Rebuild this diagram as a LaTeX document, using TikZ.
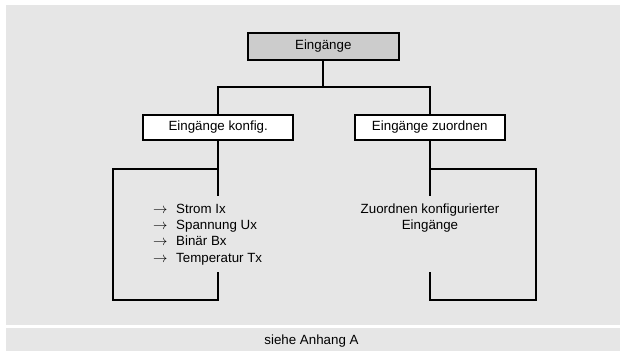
\documentclass[tikz,border=0pt]{standalone}
\usepackage{fontspec}
\setmainfont{Liberation Sans}
\definecolor{bggray}{HTML}{E6E6E6}
\definecolor{boxgray}{HTML}{CCCCCC}
\begin{document}
\begin{tikzpicture}[x=1pt,y=-1pt,
  every node/.style={font=\fontsize{13.33}{16}\selectfont, inner sep=0pt},
  conn/.style={line width=2pt, line cap=rect},
  topbox/.style={draw, line width=2pt, fill=boxgray, minimum width=150.5pt, minimum height=26.5pt},
  childbox/.style={draw, line width=2pt, fill=white, minimum width=150.5pt, minimum height=25pt},
  listitem/.style={anchor=base west}
]
\useasboundingbox (0,0) rectangle (620,351);
\fill[bggray] (6,5) rectangle (620,325);
\fill[bggray] (6,327.5) rectangle (620,351);

\node[topbox] (top) at (323.3,46.3) {Eingänge};
\node[childbox] (left) at (218.2,127.5) {Eingänge konfig.};
\node[childbox] (right) at (429.8,127.5) {Eingänge zuordnen};

\coordinate (j) at (323.3,87);
\draw[conn] (top.south) -- (j);
\draw[conn] (left.north) -- (left.north |- j) -- (right.north |- j) -- (right.north);

% left bracket
\coordinate (la) at (218.2,195);
\coordinate (lb) at (218.2,169);
\coordinate (lc) at (112.5,169);
\coordinate (ld) at (112.5,300);
\coordinate (le) at (218.2,300);
\coordinate (lf) at (218.2,272.5);
\draw[conn] (left.south) -- (la);
\draw[conn] (lb) -- (lc) -- (ld) -- (le) -- (lf);

% right bracket
\coordinate (ra) at (429.8,195);
\coordinate (rb) at (429.8,169);
\coordinate (rc) at (535.5,169);
\coordinate (rd) at (535.5,300);
\coordinate (re) at (429.8,300);
\coordinate (rf) at (429.8,272.5);
\draw[conn] (right.south) -- (ra);
\draw[conn] (rb) -- (rc) -- (rd) -- (re) -- (rf);

% list
\node[listitem] (l1) at (153,213.5) {\makebox[23pt][l]{$\rightarrow$}Strom Ix};
\node[listitem] (l2) at (153,229.7) {\makebox[23pt][l]{$\rightarrow$}Spannung Ux};
\node[listitem] (l3) at (153,245.9) {\makebox[23pt][l]{$\rightarrow$}Binär Bx};
\node[listitem] (l4) at (153,262.1) {\makebox[23pt][l]{$\rightarrow$}Temperatur Tx};

\node[anchor=base] (r1) at (430,213.5) {Zuordnen konfigurierter};
\node[anchor=base] (r2) at (430,229.7) {Eingänge};

\node[anchor=base] (foot) at (311.5,344.5) {siehe Anhang A};
\end{tikzpicture}
\end{document}
